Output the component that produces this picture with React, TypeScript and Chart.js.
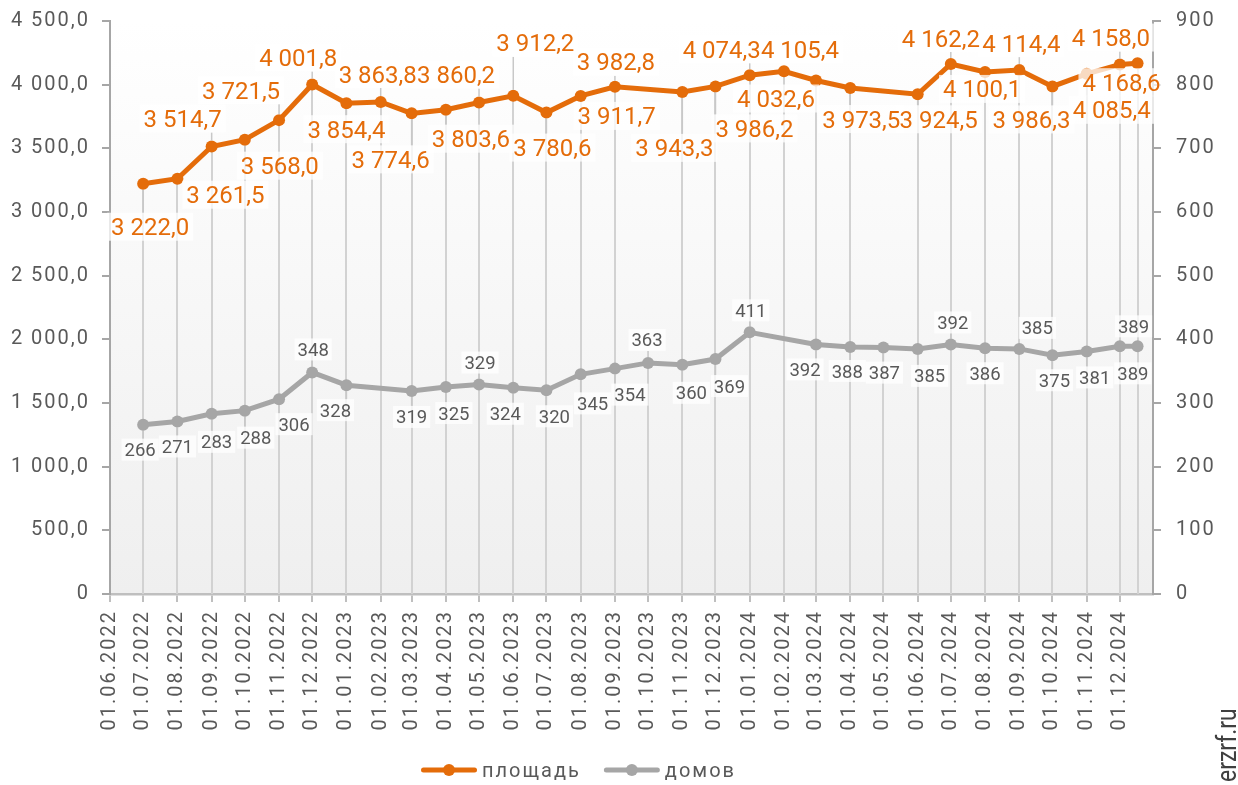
import React, { useEffect, useRef } from 'react';
import { Chart, registerables } from 'chart.js';

Chart.register(...registerables);

// ---------------- data ----------------
const categoryDates = [
  '2022-07-01', '2022-08-01', '2022-09-01', '2022-10-01', '2022-11-01', '2022-12-01',
  '2023-01-01', '2023-02-01', '2023-03-01', '2023-04-01', '2023-05-01', '2023-06-01',
  '2023-07-01', '2023-08-01', '2023-09-01', '2023-10-01', '2023-11-01', '2023-12-01',
  '2024-01-01', '2024-02-01', '2024-03-01', '2024-04-01', '2024-05-01', '2024-06-01',
  '2024-07-01', '2024-08-01', '2024-09-01', '2024-10-01', '2024-11-01', '2024-12-01',
  '2024-12-17',
];

// площадь (left axis)
const areaValues: (number | null)[] = [
  3222.0, 3261.5, 3514.7, 3568.0, 3721.5, 4001.8,
  3854.4, 3863.8, 3774.6, 3803.6, 3860.2, 3912.2,
  3780.6, 3911.7, 3982.8, null, 3943.3, 3986.2,
  4074.3, 4105.4, 4032.6, 3973.5, null, 3924.5,
  4162.2, 4100.1, 4114.4, 3986.3, 4085.4, 4158.0,
  4168.6,
];

// домов (right axis)
const houseValues: (number | null)[] = [
  266, 271, 283, 288, 306, 348,
  328, null, 319, 325, 329, 324,
  320, 345, 354, 363, 360, 369,
  411, null, 392, 388, 387, 385,
  392, 386, 385, 375, 381, 389,
  389,
];

const tickLabels = [
  '01.06.2022', '01.07.2022', '01.08.2022', '01.09.2022', '01.10.2022', '01.11.2022', '01.12.2022',
  '01.01.2023', '01.02.2023', '01.03.2023', '01.04.2023', '01.05.2023', '01.06.2023',
  '01.07.2023', '01.08.2023', '01.09.2023', '01.10.2023', '01.11.2023', '01.12.2023',
  '01.01.2024', '01.02.2024', '01.03.2024', '01.04.2024', '01.05.2024', '01.06.2024',
  '01.07.2024', '01.08.2024', '01.09.2024', '01.10.2024', '01.11.2024', '01.12.2024',
];

const axisStart = '2022-06-01';
const axisEnd = '2024-12-31';
const leftMax = 4500;
const leftStep = 500;
const rightMax = 900;
const rightStep = 100;

const seriesNames = ['площадь', 'домов'];
const watermark = 'erzrf.ru';

// ---------------- label placement (layout, px relative to point) ----------------
const areaLabelOffsets: ([number, number] | null)[] = [
  [7, 43], [48, 16], [-29, -28], [35, 26], [-38, -30], [-14, -27],
  [0, 26], [-3, -28], [-21, 46], [25, 29], [-23, -28], [22, -53],
  [6, 35], [36, 20], [1, -25], null, [-8, 56], [39, 42],
  [-28, -26], [16, -22], [-40, 18], [11, 31], null, [21, 25],
  [-10, -26], [-3, 17], [2, -27], [-21, 33], [25, 36], [-9, -27],
  [-16, 19],
];
const houseLabelOffsets: ([number, number] | null)[] = [
  [-3, 25], [0, 25], [5, 28], [11, 27], [15, 25], [1, -23],
  [-11, 25], null, [0, 26], [8, 26], [1, -22], [-8, 26],
  [8, 26], [12, 29], [15, 26], [-1, -23], [9, 28], [14, 27],
  [1, -22], null, [-11, 25], [-3, 24], [1, 25], [12, 27],
  [2, -22], [0, 25], [18, -21], [2, 25], [8, 26], [13, 27],
  [-4, -20],
];

// ---------------- helpers ----------------
const W = 1238;
const H = 785;
const ORANGE = '#E46C0A';
const GRAY = '#A6A6A6';
const TEXT = '#595959';
const FONT = 'Roboto';

const DAY = 86400000;
function isoToUTC(s: string) {
  const [y, m, d] = s.split('-').map(Number);
  return Date.UTC(y, m - 1, d);
}
function dayIndexIso(s: string) {
  return Math.round((isoToUTC(s) - isoToUTC(axisStart)) / DAY);
}
function dayIndexRu(s: string) {
  const [d, m, y] = s.split('.');
  return dayIndexIso(`${y}-${m}-${d}`);
}
function fmt(v: number, dec: number) {
  const s = v.toFixed(dec);
  const [i, f] = s.split('.');
  const iS = i.replace(/\B(?=(\d{3})+(?!\d))/g, ' ');
  return f ? `${iS},${f}` : iS;
}

const setSpacing = (chart: any) => {
  chart.ctx.letterSpacing = '2px';
};

const spacingPlugin = {
  id: 'spacing',
  beforeInit: setSpacing,
  beforeUpdate: setSpacing,
  beforeLayout: setSpacing,
  beforeDraw: setSpacing,
};

const backgroundPlugin = {
  id: 'plotBg',
  beforeDraw(chart: any) {
    const { ctx, chartArea: a } = chart;
    ctx.save();
    const g = ctx.createLinearGradient(0, a.top, 0, a.bottom);
    g.addColorStop(0, '#FFFFFF');
    g.addColorStop(1, '#EFEFEF');
    ctx.fillStyle = g;
    ctx.fillRect(a.left, a.top, a.right - a.left, a.bottom - a.top);
    ctx.restore();
  },
};

const dropLinePlugin = {
  id: 'dropLines',
  beforeDatasetsDraw(chart: any) {
    const { ctx, chartArea: a } = chart;
    ctx.save();
    ctx.strokeStyle = '#D2D2D2';
    ctx.lineWidth = 2;
    for (let i = 0; i < categoryDates.length; i++) {
      let top = Infinity;
      let x = NaN;
      chart.data.datasets.forEach((ds: any, di: number) => {
        const v = ds.data[i]?.y;
        if (v == null) return;
        const el = chart.getDatasetMeta(di).data[i];
        if (!el) return;
        if (el.y < top) {
          top = el.y;
          x = el.x;
        }
      });
      if (!isFinite(top)) continue;
      ctx.beginPath();
      ctx.moveTo(Math.round(x), top);
      ctx.lineTo(Math.round(x), a.bottom);
      ctx.stroke();
    }
    ctx.restore();
  },
};

const labelCfg = [
  { offsets: areaLabelOffsets, size: 24, color: ORANGE, padX: 4, halfH: 14, format: (v: number) => fmt(v, 1) },
  { offsets: houseLabelOffsets, size: 18.5, color: TEXT, padX: 3, halfH: 11, format: (v: number) => fmt(v, 0) },
];

const labelPlugin = {
  id: 'pointLabels',
  afterDatasetsDraw(chart: any) {
    const ctx = chart.ctx;
    ctx.save();
    ctx.letterSpacing = '0px';
    const items: any[] = [];
    chart.data.datasets.forEach((ds: any, di: number) => {
      const cfg = labelCfg[di];
      const meta = chart.getDatasetMeta(di);
      ds.data.forEach((p: any, i: number) => {
        if (p.y == null) return;
        const off = cfg.offsets[i];
        if (!off) return;
        const el = meta.data[i];
        ctx.font = `${cfg.size}px ${FONT}`;
        const text = cfg.format(p.y);
        const w = ctx.measureText(text).width;
        const cx = el.x + off[0];
        const cy = el.y + off[1];
        items.push({
          text, cx, cy, w, cfg, px: el.x, py: el.y,
          l: cx - w / 2 - cfg.padX, r: cx + w / 2 + cfg.padX,
          t: cy - cfg.halfH, b: cy + cfg.halfH,
        });
      });
    });
    // leader lines
    ctx.strokeStyle = '#C8C8C8';
    ctx.lineWidth = 1.5;
    items.forEach((it) => {
      const nx = Math.min(Math.max(it.px, it.l), it.r);
      const ny = Math.min(Math.max(it.py, it.t), it.b);
      const dx = nx - it.px;
      const dy = ny - it.py;
      const d = Math.hypot(dx, dy);
      if (d <= 10) return;
      const r = 6;
      ctx.beginPath();
      ctx.moveTo(it.px + (dx / d) * r, it.py + (dy / d) * r);
      ctx.lineTo(nx, ny);
      ctx.stroke();
    });
    // label backgrounds
    ctx.fillStyle = 'rgba(255,255,255,0.75)';
    items.forEach((it) => {
      ctx.fillRect(it.l, it.t, it.r - it.l, it.b - it.t);
    });
    // texts
    ctx.textAlign = 'center';
    ctx.textBaseline = 'alphabetic';
    items.forEach((it) => {
      ctx.font = `${it.cfg.size}px ${FONT}`;
      ctx.fillStyle = it.cfg.color;
      ctx.fillText(it.text, it.cx, it.cy + it.cfg.size * 0.355);
    });
    ctx.restore();
  },
};

// legend: line + marker symbol followed by series name
const legendPlugin = {
  id: 'customLegend',
  afterDraw(chart: any) {
    const ctx = chart.ctx;
    const startX = 421;
    const cy = 770;
    const symW = 56;
    const gap = 5;
    const itemGap = 23;
    ctx.save();
    ctx.letterSpacing = '2px';
    ctx.font = `20px ${FONT}`;
    let x = startX;
    chart.data.datasets.forEach((ds: any) => {
      const color = ds.borderColor;
      ctx.strokeStyle = color;
      ctx.lineWidth = 5;
      ctx.lineCap = 'round';
      ctx.beginPath();
      ctx.moveTo(x + 2.5, cy);
      ctx.lineTo(x + symW - 2.5, cy);
      ctx.stroke();
      ctx.fillStyle = color;
      ctx.beginPath();
      ctx.arc(x + symW / 2, cy, 6, 0, Math.PI * 2);
      ctx.fill();
      const tx = x + symW + gap;
      ctx.fillStyle = TEXT;
      ctx.textAlign = 'left';
      ctx.textBaseline = 'alphabetic';
      ctx.fillText(ds.label, tx, cy + 7);
      const tw = ctx.measureText(ds.label).width;
      x = tx + tw + itemGap;
    });
    ctx.restore();
  },
};

const watermarkPlugin = {
  id: 'watermark',
  afterDraw(chart: any) {
    const ctx = chart.ctx;
    ctx.save();
    ctx.letterSpacing = '0px';
    ctx.translate(1236, 782);
    ctx.rotate(-Math.PI / 2);
    ctx.scale(0.82, 1);
    ctx.font = `28px ${FONT}`;
    ctx.fillStyle = '#404040';
    ctx.textAlign = 'left';
    ctx.textBaseline = 'alphabetic';
    ctx.fillText(watermark, 0, 0);
    ctx.restore();
  },
};

export default function App() {
  const ref = useRef<HTMLCanvasElement>(null);

  useEffect(() => {
    const canvas = ref.current;
    if (!canvas) return;
    const xs = categoryDates.map(dayIndexIso);
    const tickValues = tickLabels.map(dayIndexRu);

    const chart = new Chart(canvas, {
      type: 'line',
      data: {
        datasets: [
          {
            label: seriesNames[0],
            data: areaValues.map((v, i) => ({ x: xs[i], y: v })) as any,
            yAxisID: 'y',
            borderColor: ORANGE,
            backgroundColor: ORANGE,
            borderWidth: 5,
            pointRadius: 6,
            pointBorderWidth: 0,
            pointBackgroundColor: ORANGE,
            tension: 0,
            spanGaps: true,
          },
          {
            label: seriesNames[1],
            data: houseValues.map((v, i) => ({ x: xs[i], y: v })) as any,
            yAxisID: 'y1',
            borderColor: GRAY,
            backgroundColor: GRAY,
            borderWidth: 5,
            pointRadius: 6,
            pointBorderWidth: 0,
            pointBackgroundColor: GRAY,
            tension: 0,
            spanGaps: true,
          },
        ],
      },
      options: {
        animation: false,
        responsive: false,
        devicePixelRatio: 1,
        font: { family: FONT },
        layout: { padding: { top: 21, left: 0, right: 0, bottom: 46 } },
        plugins: {
          tooltip: { enabled: false },
          legend: { display: false },
        },
        scales: {
          x: {
            type: 'linear',
            min: 0,
            max: dayIndexIso(axisEnd),
            afterBuildTicks: (scale: any) => {
              scale.ticks = tickValues.map((v) => ({ value: v }));
            },
            afterFit: (scale: any) => {
              scale.height = 145;
            },
            ticks: {
              autoSkip: false,
              minRotation: 90,
              maxRotation: 90,
              padding: 8,
              color: TEXT,
              font: { family: FONT, size: 20 },
              callback: (_v: any, i: number) => tickLabels[i],
            },
            grid: {
              display: true,
              drawOnChartArea: false,
              drawTicks: true,
              tickLength: 8,
              color: '#BFBFBF',
              lineWidth: 2,
            },
            border: { display: true, color: '#BFBFBF', width: 2.5 },
          },
          y: {
            type: 'linear',
            position: 'left',
            min: 0,
            max: leftMax,
            afterFit: (scale: any) => {
              scale.width = 110;
              scale.paddingTop = 0;
              scale.paddingBottom = 0;
            },
            ticks: {
              stepSize: leftStep,
              padding: 12,
              color: TEXT,
              font: { family: FONT, size: 20 },
              callback: (v: any) => (Number(v) === 0 ? '0' : fmt(Number(v), 1)),
            },
            grid: {
              display: true,
              drawOnChartArea: false,
              drawTicks: true,
              tickLength: 8,
              color: GRAY,
              lineWidth: 2,
            },
            border: { display: true, color: GRAY, width: 2 },
          },
          y1: {
            type: 'linear',
            position: 'right',
            min: 0,
            max: rightMax,
            afterFit: (scale: any) => {
              scale.width = 85;
              scale.paddingTop = 0;
              scale.paddingBottom = 0;
            },
            ticks: {
              stepSize: rightStep,
              padding: 15,
              color: TEXT,
              font: { family: FONT, size: 20 },
              callback: (v: any) => fmt(Number(v), 0),
            },
            grid: {
              display: true,
              drawOnChartArea: false,
              drawTicks: true,
              tickLength: 8,
              color: GRAY,
              lineWidth: 2,
            },
            border: { display: true, color: GRAY, width: 2 },
          },
        },
      } as any,
      plugins: [spacingPlugin, backgroundPlugin, dropLinePlugin, labelPlugin, legendPlugin, watermarkPlugin] as any,
    });

    return () => chart.destroy();
  }, []);

  return (
    <div style={{ position: 'fixed', left: 0, top: 0, width: W, height: H, background: '#FFFFFF' }}>
      <canvas ref={ref} width={W} height={H} style={{ display: 'block', width: W, height: H }} />
    </div>
  );
}
